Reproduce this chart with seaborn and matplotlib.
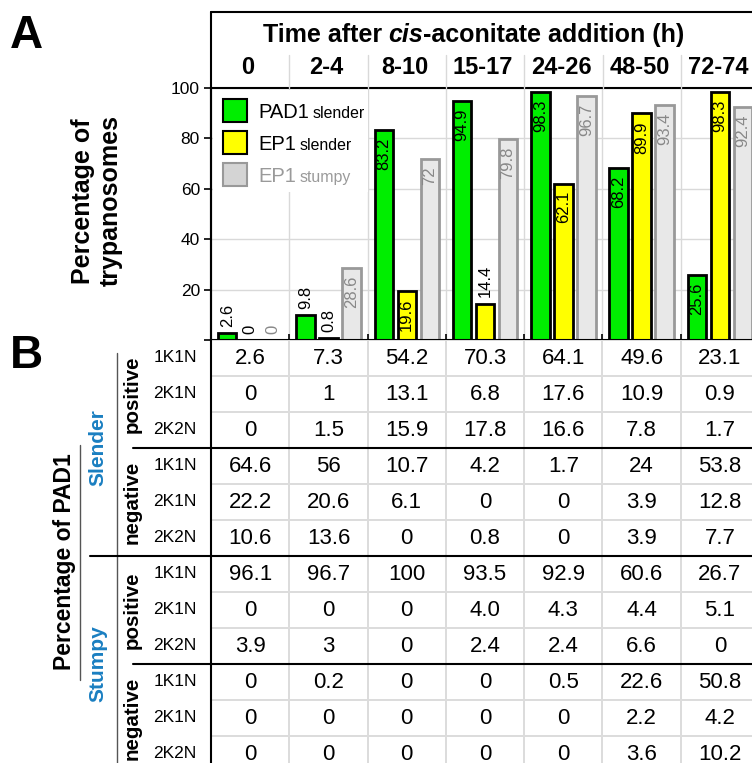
import numpy as np
import pandas as pd
import matplotlib
matplotlib.use('Agg')
import matplotlib.pyplot as plt
import seaborn as sns
from matplotlib.colors import ListedColormap
from matplotlib.patches import Rectangle

# ---- data ----
times = ['0', '2-4', '8-10', '15-17', '24-26', '48-50', '72-74']
series = ['PAD1 slender', 'EP1 slender', 'EP1 stumpy']
pad1_slender = [2.6, 9.8, 83.2, 94.9, 98.3, 68.2, 25.6]
ep1_slender = [0, 0.8, 19.6, 14.4, 62.1, 89.9, 98.3]
ep1_stumpy = [0, 28.6, 72, 79.8, 96.7, 93.4, 92.4]

kinetoplast = ['1K1N', '2K1N', '2K2N']
# table B, one list per row, kept as printed
slender_positive = [
    ['2.6', '7.3', '54.2', '70.3', '64.1', '49.6', '23.1'],
    ['0', '1', '13.1', '6.8', '17.6', '10.9', '0.9'],
    ['0', '1.5', '15.9', '17.8', '16.6', '7.8', '1.7'],
]
slender_negative = [
    ['64.6', '56', '10.7', '4.2', '1.7', '24', '53.8'],
    ['22.2', '20.6', '6.1', '0', '0', '3.9', '12.8'],
    ['10.6', '13.6', '0', '0.8', '0', '3.9', '7.7'],
]
stumpy_positive = [
    ['96.1', '96.7', '100', '93.5', '92.9', '60.6', '26.7'],
    ['0', '0', '0', '4.0', '4.3', '4.4', '5.1'],
    ['3.9', '3', '0', '2.4', '2.4', '6.6', '0'],
]
stumpy_negative = [
    ['0', '0.2', '0', '0', '0.5', '22.6', '50.8'],
    ['0', '0', '0', '0', '0', '2.2', '4.2'],
    ['0', '0', '0', '0', '0', '3.6', '10.2'],
]

colors = {'PAD1 slender': '#00ee00', 'EP1 slender': '#ffff00', 'EP1 stumpy': '#e8e8e8'}
edges = {'PAD1 slender': 'black', 'EP1 slender': 'black', 'EP1 stumpy': '#999999'}
label_colors = {'PAD1 slender': 'black', 'EP1 slender': 'black', 'EP1 stumpy': '#888888'}
blue = '#1a7fc1'

sns.set_theme(style='white')
plt.rcParams['font.family'] = ['Liberation Sans', 'DejaVu Sans']
plt.rcParams['text.color'] = 'black'
plt.rcParams['xtick.color'] = 'black'
plt.rcParams['ytick.color'] = 'black'
plt.rcParams['axes.labelcolor'] = 'black'

# layout in pixels
W, H = 752, 763
X0, COLW = 211, 78.3
Y100, Y0 = 88, 340
ROWH = 36


def fx(px):
    return px / W


def fy(py):
    return 1 - py / H


fig = plt.figure(figsize=(W / 100, H / 100), dpi=100)

# ---- A: bar chart ----
ax = fig.add_axes([fx(X0), fy(Y0), 7 * COLW / W, (Y0 - Y100) / H])
rows = []
for name, vals in zip(series, [pad1_slender, ep1_slender, ep1_stumpy]):
    for t, v in zip(times, vals):
        rows.append((t, name, v))
df = pd.DataFrame(rows, columns=['time', 'series', 'value'])

sns.barplot(data=df, x='time', y='value', hue='series', order=times, hue_order=series,
            palette=colors, saturation=1, width=0.88, gap=0.2, errorbar=None,
            linewidth=2, edgecolor='black', legend=False, ax=ax)

for container, name, vals in zip(ax.containers, series, [pad1_slender, ep1_slender, ep1_stumpy]):
    for bar, v in zip(container, vals):
        bar.set_edgecolor(edges[name])
        cx = bar.get_x() + bar.get_width() / 2
        if v >= 15:
            ax.text(cx, v - 3, f'{v:g}', rotation=90, ha='center', va='top',
                    fontsize=12, color=label_colors[name])
        else:
            ax.text(cx, v + 2.5, f'{v:g}', rotation=90, ha='center', va='bottom',
                    fontsize=12, color=label_colors[name])

ax.set_xlim(-0.5, 6.5)
ax.set_ylim(0, 100)
ax.set_yticks([0, 20, 40, 60, 80, 100])
ax.set_yticklabels(['', '20', '40', '60', '80', '100'], fontsize=12.5)
ax.set_xticks(np.arange(0.5, 6.6, 1))
ax.set_xticklabels([])
ax.set_xlabel('')
ax.set_ylabel('')
ax.tick_params(axis='y', direction='out', length=5, width=1.2, color='black', pad=3, left=True)
ax.tick_params(axis='x', direction='in', length=4, width=1.2, color='black', bottom=True)
ax.grid(True, color='#d9d9d9', lw=1)
ax.set_axisbelow(True)
for s in ['left', 'bottom', 'top']:
    ax.spines[s].set_color('black')
    ax.spines[s].set_linewidth(1.5)
ax.spines['right'].set_visible(False)

# ---- B: table ----
tax = fig.add_axes([fx(X0), fy(Y0 + 12 * ROWH), 7 * COLW / W, 12 * ROWH / H])
table = np.array(slender_positive + slender_negative + stumpy_positive + stumpy_negative)
sns.heatmap(np.zeros(table.shape), ax=tax, cmap=ListedColormap(['white']), cbar=False,
            annot=table, fmt='', annot_kws={'size': 16, 'color': 'black'},
            linewidths=1.2, linecolor='#dcdcdc', xticklabels=False, yticklabels=False)

# ---- overlay for labels and rules ----
ov = fig.add_axes([0, 0, 1, 1], zorder=10)
ov.set_xlim(0, W)
ov.set_ylim(H, 0)
ov.axis('off')

ov.plot([X0, W], [12, 12], color='black', lw=1.5)
ov.plot([X0, X0], [12, H], color='black', lw=1.5)
for i in range(1, 7):
    x = X0 + i * COLW
    ov.plot([x, x], [55, Y100], color='#d9d9d9', lw=1)
for i, t in enumerate(times):
    ov.text(X0 + (i + 0.5) * COLW - 2, 68, t, ha='center', va='center',
            fontsize=17, fontweight='bold')

renderer = fig.canvas.get_renderer()


def put_run(x, y, parts):
    for s, gap, kw in parts:
        t = ov.text(x, y, s, ha='left', va='baseline', **kw)
        x += t.get_window_extent(renderer).width + gap


put_run(263, 42, [
    ('Time after', 6, dict(fontsize=18, fontweight='bold')),
    ('cis', 0.5, dict(fontsize=18, fontweight='bold', fontstyle='italic')),
    ('-aconitate addition (h)', 0, dict(fontsize=18, fontweight='bold')),
])

# legend
ov.add_patch(Rectangle((213, 90), 155, 102, facecolor='white', edgecolor='none'))
leg_y = [99, 131, 163]
for name, y in zip(series, leg_y):
    fc = '#d4d4d4' if name == 'EP1 stumpy' else colors[name]
    ov.add_patch(Rectangle((223, y), 24, 23, facecolor=fc, edgecolor=edges[name], lw=1.5))
for name, y in zip(series, leg_y):
    first, second = name.split(' ')
    c = '#9a9a9a' if name == 'EP1 stumpy' else 'black'
    put_run(258, y + 19, [
        (first, 4, dict(fontsize=14.5, color=c)),
        (second, 0, dict(fontsize=11.4, color=c)),
    ])

ov.text(10, 36, 'A', fontsize=33, fontweight='bold', ha='left', va='center')
ov.text(10, 356, 'B', fontsize=33, fontweight='bold', ha='left', va='center')
ov.text(97, 201, 'Percentage of\ntrypanosomes', rotation=90, ha='center', va='center',
        fontsize=18, fontweight='bold', linespacing=1.2)

# table row labels
for r in range(12):
    ov.text(175, Y0 + (r + 0.5) * ROWH, kinetoplast[r % 3], ha='center', va='center',
            fontsize=12.5)
for k in range(4):
    ov.text(132, Y0 + (1.5 + 3 * k) * ROWH, ['positive', 'negative'][k % 2], rotation=90,
            ha='center', va='center', fontsize=14.8, fontweight='bold')
ov.text(98, Y0 + 3 * ROWH, 'Slender', rotation=90, ha='center', va='center',
        fontsize=15, fontweight='bold', color=blue)
ov.text(98, Y0 + 9 * ROWH, 'Stumpy', rotation=90, ha='center', va='center',
        fontsize=15, fontweight='bold', color=blue)
ov.text(64, 562, 'Percentage of PAD1', rotation=90, ha='center', va='center',
        fontsize=16.5, fontweight='bold')

ov.plot([117, 117], [353, H], color='#555555', lw=1)
ov.plot([80, 80], [445, 680], color='#555555', lw=1)
ov.plot([133, W], [Y0 + 3 * ROWH] * 2, color='black', lw=1.5)
ov.plot([90, W], [Y0 + 6 * ROWH] * 2, color='black', lw=1.5)
ov.plot([133, W], [Y0 + 9 * ROWH] * 2, color='black', lw=1.5)

fig.savefig('out.png', dpi=100)
